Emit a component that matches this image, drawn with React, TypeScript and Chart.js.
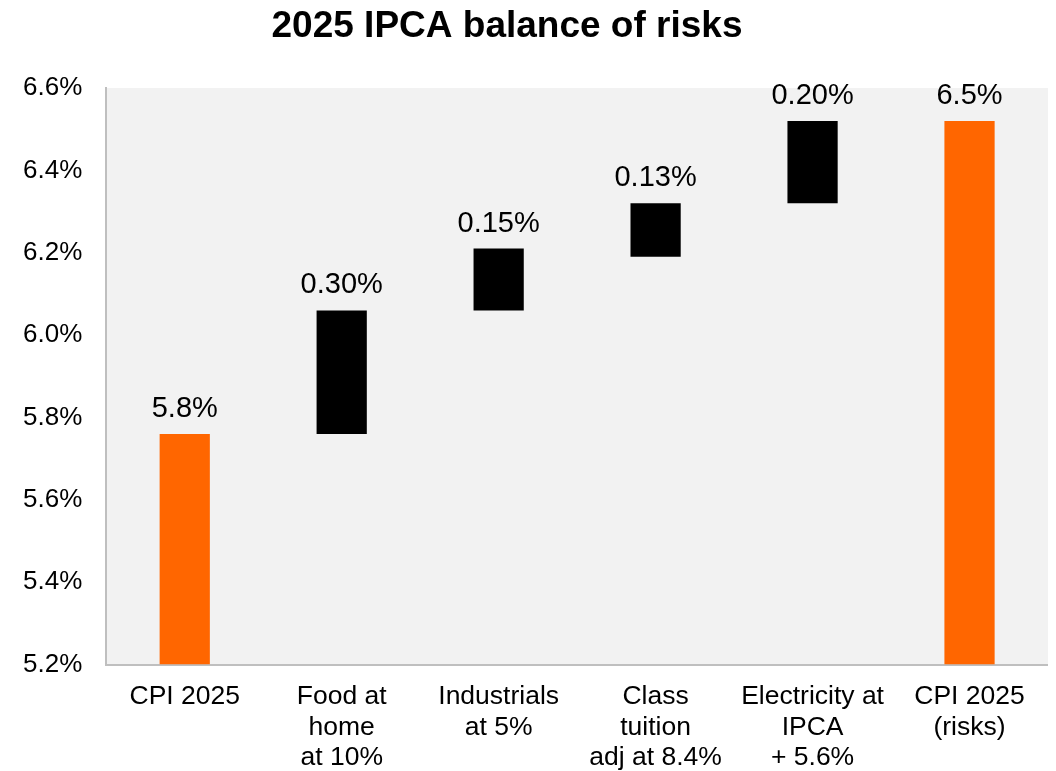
import React, { useEffect, useRef } from "react";
import { Chart, registerables } from "chart.js";

Chart.register(...registerables);

const chartTitle = "2025 IPCA balance of risks";
const categories: string[][] = [
  ["CPI 2025"],
  ["Food at", "home", "at 10%"],
  ["Industrials", "at 5%"],
  ["Class", "tuition", "adj at 8.4%"],
  ["Electricity at", "IPCA", "+ 5.6%"],
  ["CPI 2025", "(risks)"],
];
const barStarts = [5.2, 5.76, 6.06, 6.19, 6.32, 5.2];
const barEnds = [5.76, 6.06, 6.21, 6.32, 6.52, 6.52];
const valueLabels = ["5.8%", "0.30%", "0.15%", "0.13%", "0.20%", "6.5%"];
const barColors = ["#FF6600", "#000000", "#000000", "#000000", "#000000", "#FF6600"];
const yMin = 5.2;
const yMax = 6.6;
const yStep = 0.2;

const FONT = "'Liberation Sans', Arial, sans-serif";

export default function App() {
  const ref = useRef<HTMLCanvasElement | null>(null);

  useEffect(() => {
    if (!ref.current) return;
    document.documentElement.style.overflow = "hidden";
    document.body.style.overflow = "hidden";
    const bgPlugin = {
      id: "plotBg",
      beforeDraw(chart: any) {
        const { ctx, chartArea } = chart;
        ctx.save();
        ctx.fillStyle = "#f2f2f2";
        ctx.fillRect(chartArea.left, chartArea.top, chartArea.right - chartArea.left, chartArea.bottom - chartArea.top);
        ctx.restore();
      },
    };
    const labelPlugin = {
      id: "valueLabels",
      afterDatasetsDraw(chart: any) {
        const { ctx } = chart;
        const meta = chart.getDatasetMeta(0);
        ctx.save();
        ctx.font = `29px ${FONT}`;
        ctx.fillStyle = "#000";
        ctx.textAlign = "center";
        ctx.textBaseline = "alphabetic";
        meta.data.forEach((el: any, i: number) => {
          const top = Math.min(el.y, el.base);
          ctx.fillText(valueLabels[i], el.x, top - 17);
        });
        ctx.restore();
      },
    };
    const titlePlugin = {
      id: "customTitle",
      afterDraw(chart: any) {
        const { ctx } = chart;
        ctx.save();
        ctx.font = `bold 37px ${FONT}`;
        ctx.fillStyle = "#000";
        ctx.textAlign = "center";
        ctx.textBaseline = "alphabetic";
        ctx.fillText(chartTitle, chart.width / 2 - 21, 29);
        ctx.restore();
      },
    };
    const chart = new Chart(ref.current, {
      type: "bar",
      data: {
        labels: categories,
        datasets: [
          {
            data: barStarts.map((s, i) => [s, barEnds[i]]),
            backgroundColor: barColors,
            borderWidth: 0,
            barPercentage: 0.32,
            categoryPercentage: 1,
          },
        ],
      },
      options: {
        animation: false,
        responsive: true,
        maintainAspectRatio: false,
        layout: { padding: { top: 80, left: -9, right: 0, bottom: -19 } },
        plugins: {
          legend: { display: false },
          title: { display: false },
          tooltip: { enabled: false },
        },
        scales: {
          x: {
            grid: { display: false, drawTicks: false },
            border: { display: true, color: "#bfbfbf", width: 2 },
            ticks: {
              color: "#000",
              font: { family: FONT, size: 26.5, lineHeight: 1.15 },
              padding: 17,
              maxRotation: 0,
              autoSkip: false,
            },
          },
          y: {
            min: yMin,
            max: yMax,
            grid: { display: false, drawTicks: false },
            border: { display: true, color: "#bfbfbf", width: 2 },
            ticks: {
              stepSize: yStep,
              color: "#000",
              font: { family: FONT, size: 26 },
              padding: 24,
              callback: (v: any) => Number(v).toFixed(1) + "%",
            },
          },
        },
      },
      plugins: [bgPlugin, labelPlugin, titlePlugin],
    });
    return () => chart.destroy();
  }, []);

  return (
    <div style={{ width: 1040, height: 763, position: "relative" }}>
      <canvas ref={ref} />
    </div>
  );
}
